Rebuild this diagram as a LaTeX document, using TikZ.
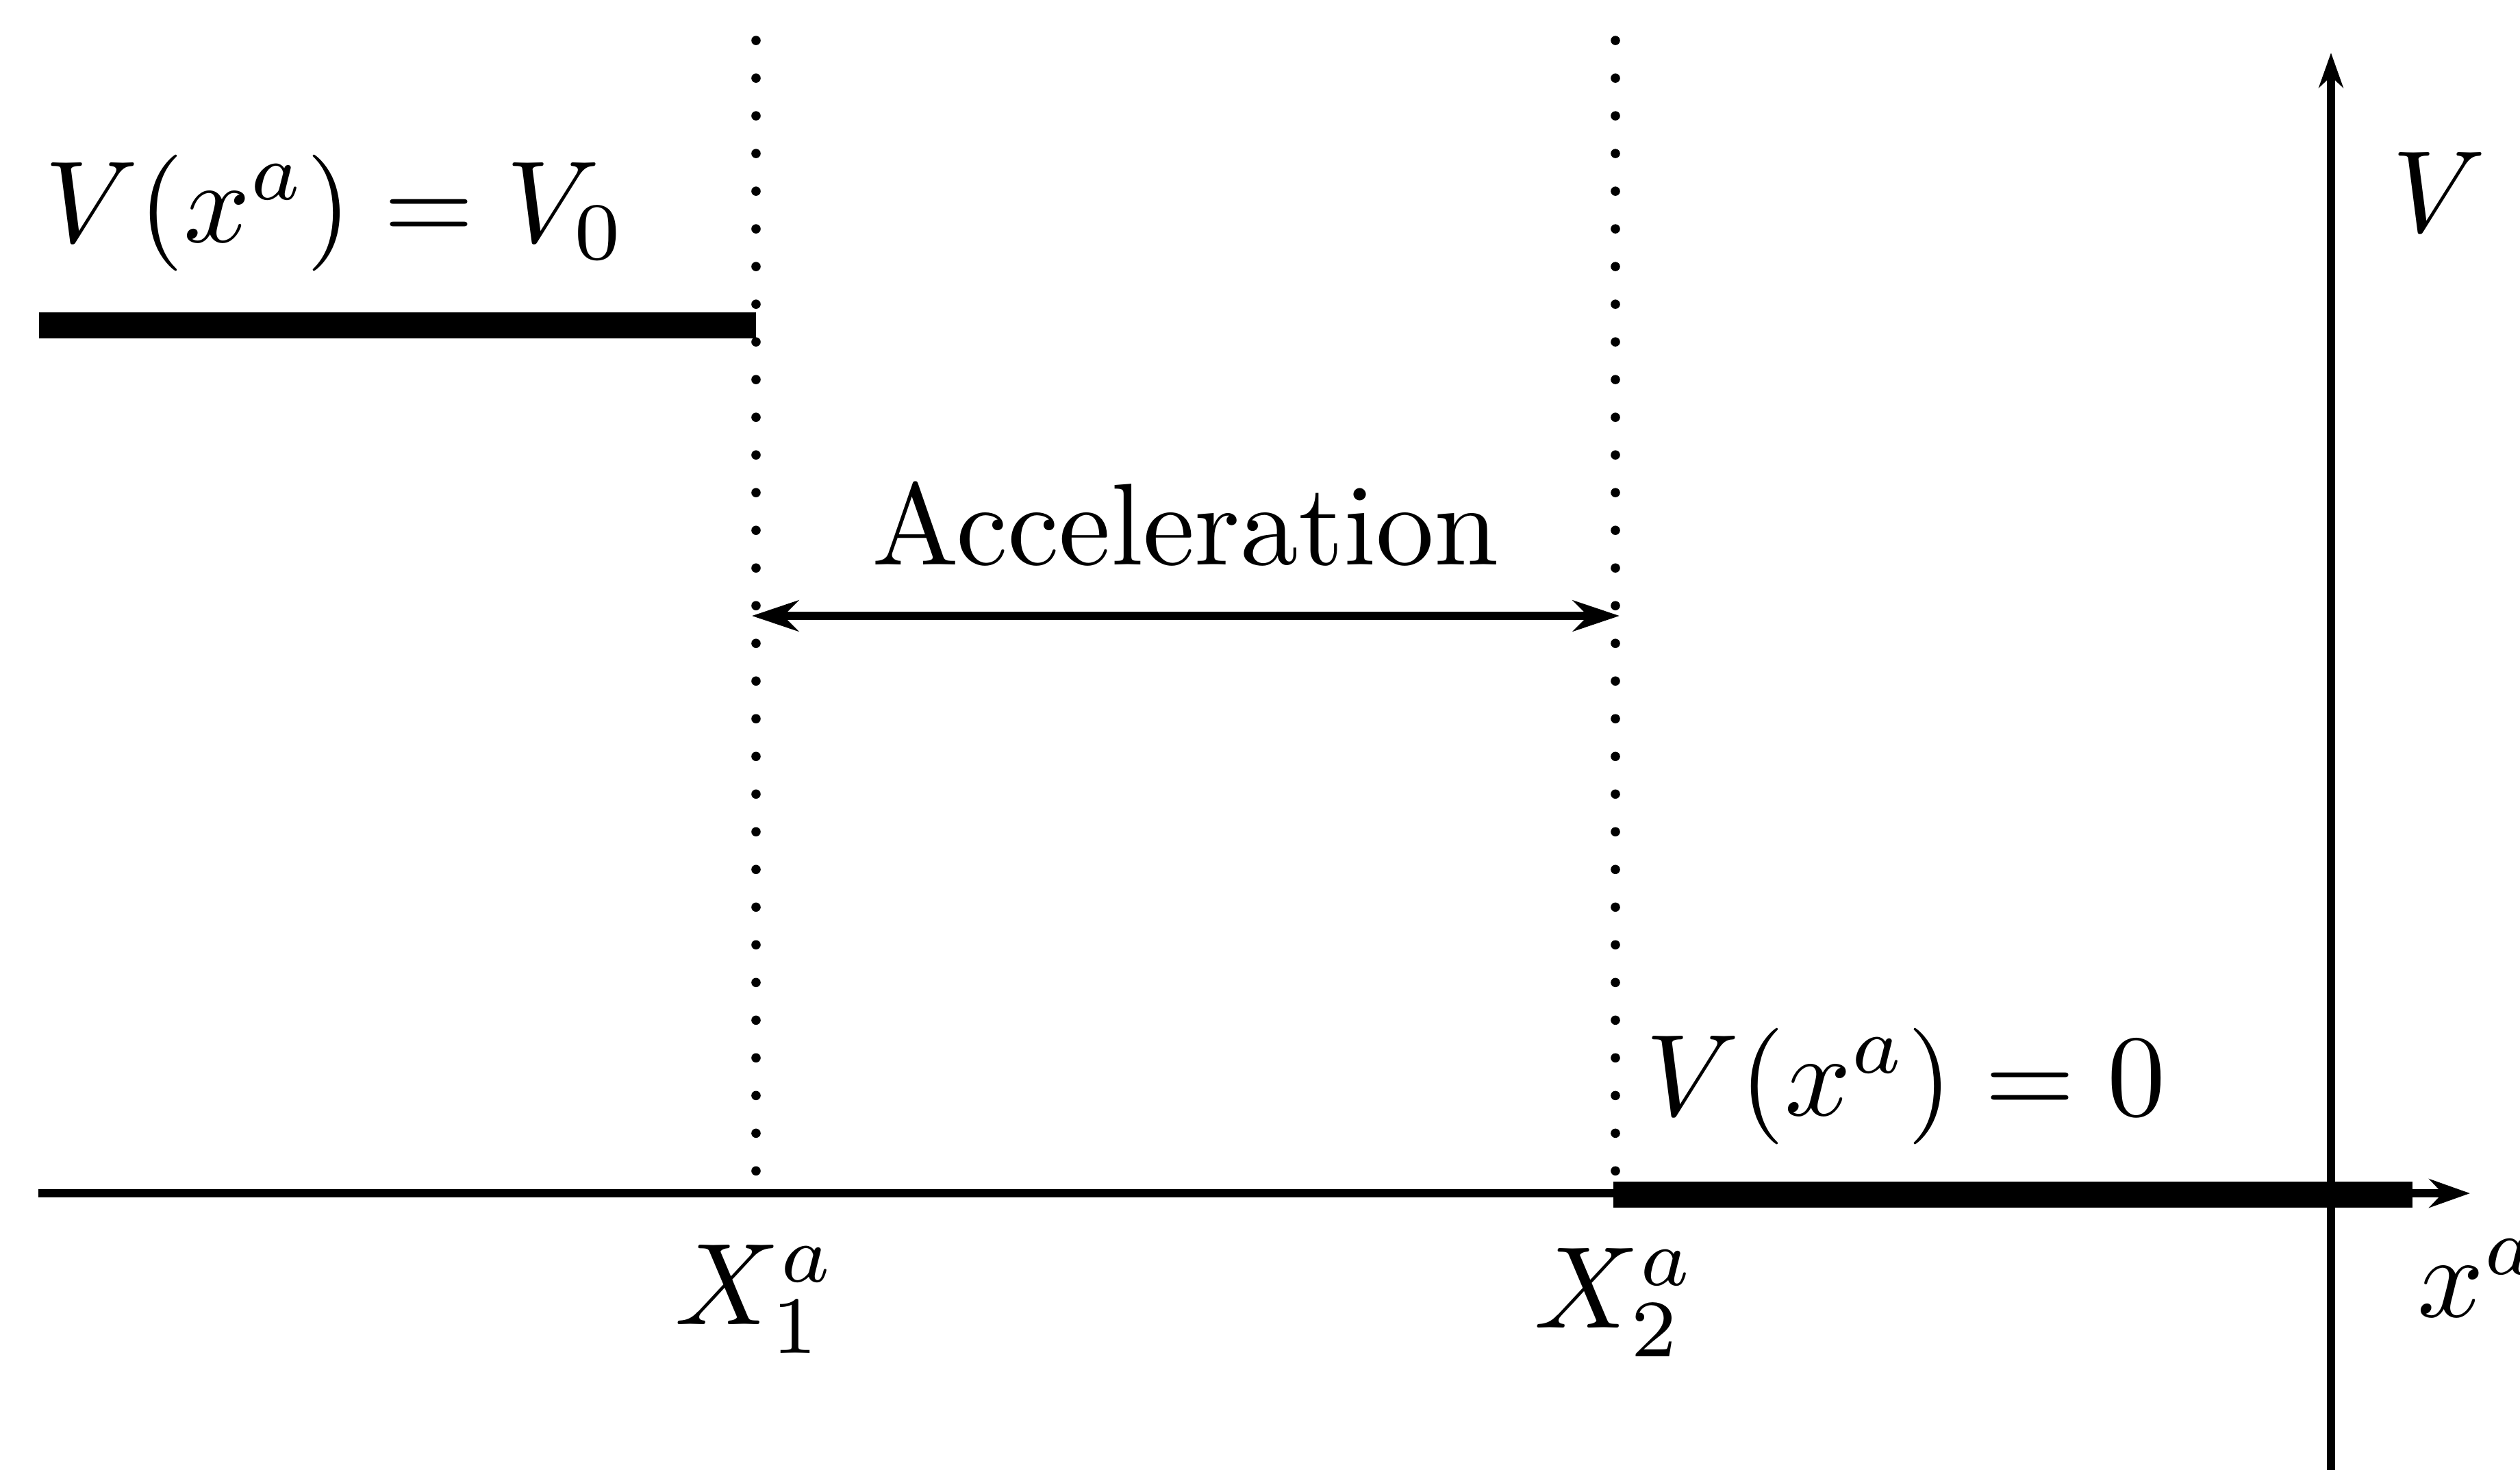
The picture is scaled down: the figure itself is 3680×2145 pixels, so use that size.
\documentclass[tikz,border=0pt]{standalone}
\usetikzlibrary{arrows.meta}
\begin{document}
\begin{tikzpicture}[x=0.0589pt,y=-0.0589pt,
  axis/.style={line width=0.75pt},
  plateau/.style={line width=2.2pt},
  guide/.style={line width=0.8pt, line cap=round, dash pattern=on 0pt off 3.24pt},
  lbl/.style={inner sep=0pt},
  bigtip/.style={Stealth[length=4pt,width=2.65pt]}]
\useasboundingbox (0,0) rectangle (3680,2145);
% coordinates
\coordinate (d1top) at (1104,59);
\coordinate (d1bot) at (1104,1740);
\coordinate (d2top) at (2359,59);
\coordinate (d2bot) at (2359,1740);
\coordinate (xl) at (56,1742);
\coordinate (xr) at (3607,1742);
\coordinate (yb) at (3404,2170);
\coordinate (yt) at (3404,77);
\coordinate (p0l) at (57,475);
\coordinate (p0r) at (1104,475);
\coordinate (p1l) at (2356,1744);
\coordinate (p1r) at (3523,1744);
\coordinate (al) at (1098,899);
\coordinate (ar) at (2365,899);
% guides
\draw[guide] (d1top) -- (d1bot);
\draw[guide] (d2top) -- (d2bot);
% axes
\draw[axis,-{Stealth[length=3.5pt,width=2.45pt]}] (xl) -- (xr);
\draw[axis,-{Stealth[length=3pt,width=2.1pt]}] (yb) -- (yt);
% plateaus
\draw[plateau] (p0l) -- (p0r);
\draw[plateau] (p1l) -- (p1r);
% acceleration arrow
\draw[axis,{Stealth[length=4pt,width=2.65pt]}-{Stealth[length=4pt,width=2.65pt]}] (al) -- (ar);
% labels
\node[lbl,anchor=base west] (lv0) at (62,353) {$V(x^a)=V_0$};
\node[lbl,anchor=base] (lacc) at (1731,824) {Acceleration};
\node[lbl,anchor=base west] (lvz) at (2400,1628) {$V(x^a)=0$};
\node[lbl,anchor=base] (lx1) at (1104,1933) {$X_1^a$};
\node[lbl,anchor=base] (lx2) at (2359,1938) {$X_2^a$};
\node[lbl,anchor=base west] (lxa) at (3527,1922) {$x^a$};
\node[lbl,anchor=base west] (lV) at (3490,338) {$V$};
\end{tikzpicture}
\end{document}
